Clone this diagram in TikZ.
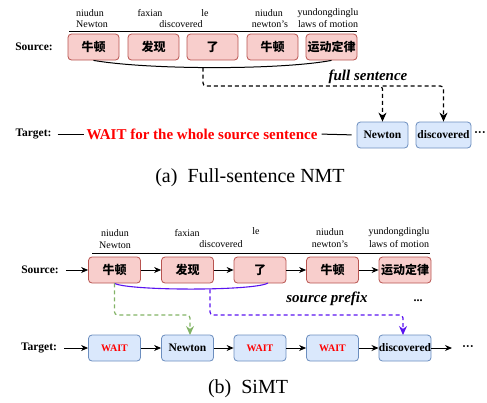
\documentclass[tikz,border=0pt]{standalone}
\usepackage{fontspec}
\setmainfont{Liberation Serif}
\newfontfamily\cjk{Noto Sans CJK SC}
\usetikzlibrary{arrows.meta}
\definecolor{srcfill}{HTML}{F8CECC}
\definecolor{srcdraw}{HTML}{B85450}
\definecolor{tgtfill}{HTML}{DAE8FC}
\definecolor{tgtdraw}{HTML}{6C8EBF}
\definecolor{grn}{HTML}{82B366}
\definecolor{prp}{HTML}{5A14F0}
\definecolor{wred}{HTML}{FF0000}
\tikzset{
  srcbox/.style={draw=srcdraw, fill=srcfill, rounded corners=3.5pt, minimum width=51pt, minimum height=26pt, inner sep=0pt, line width=0.8pt, font=\cjk\bfseries\fontsize{12}{12}\selectfont},
  tgtbox/.style={draw=tgtdraw, fill=tgtfill, rounded corners=3.5pt, minimum width=51pt, minimum height=26pt, inner sep=0pt, line width=0.8pt, font=\bfseries\fontsize{11.5}{12}\selectfont},
  gloss/.style={inner sep=0pt, font=\fontsize{10}{10}\selectfont},
  rowlab/.style={inner sep=0pt, font=\bfseries\fontsize{11.5}{12}\selectfont},
  captxt/.style={inner sep=0pt, font=\fontsize{20}{20}\selectfont},
  emtxt/.style={inner sep=0pt, font=\bfseries\itshape\fontsize{15}{15}\selectfont},
  arr/.style={-{Stealth[length=7pt,width=6pt]}, line width=0.9pt},
  darr/.style={-{Stealth[length=9pt,width=8pt]}, line width=1.2pt, dash pattern=on 4pt off 3pt, rounded corners=3pt},
}
\begin{document}
\begin{tikzpicture}[x=1pt,y=-1pt]
\useasboundingbox (0,0) rectangle (487,402);
% ================= (a) =================
\node[rowlab] (srcA) at (34,47) {Source:};
\node[srcbox] (a1) at (93.5,47) {牛顿};
\node[srcbox] (a2) at (153.5,47) {发现};
\node[srcbox] (a3) at (212.5,47) {了};
\node[srcbox] (a4) at (272.5,47) {牛顿};
\node[srcbox] (a5) at (331.5,47) {运动定律};
\draw[line width=0.9pt] (69,31) -- (357,31);
\node[gloss] (ga1) at (90,13) {niudun};
\node[gloss] (ga2) at (92,24) {Newton};
\node[gloss] (ga3) at (150,13) {faxian};
\node[gloss] (ga4) at (181,24) {discovered};
\node[gloss] (ga5) at (205,13) {le};
\node[gloss] (ga6) at (269,13) {niudun};
\node[gloss] (ga7) at (270,24) {newton's};
\node[gloss] (ga8) at (328,13) {yundongdinglu};
\node[gloss] (ga9) at (328,24) {laws of motion};
\draw[line width=1pt] (a1.south) .. controls (150,70) and (280,70) .. (a5.south);
\coordinate (fs) at (203,67.5);
\node[emtxt] (fsl) at (368,77) {full sentence};
\node[rowlab] (tgtA) at (33.5,134) {Target:};
\node[text=wred, inner sep=0pt, font=\bfseries\fontsize{15}{15}\selectfont] (wait) at (202,134) {WAIT for the whole source sentence};
\node[tgtbox] (na) at (382.5,135) {Newton};
\node[tgtbox, minimum width=55pt] (nd) at (443.5,135) {discovered};
\node[inner sep=0pt, font=\bfseries\fontsize{12}{12}\selectfont] (dotsA) at (480,134) {···};
\draw[line width=1pt, shorten <=6pt, shorten >=2pt] (tgtA.east) -- (wait.west);
\draw[line width=1pt, shorten <=4pt, shorten >=5pt] (wait.east) -- (na.west);
\coordinate (j1) at (382.5,86);
\coordinate (j2) at (443.5,86);
\draw[darr] (fs) |- (j1) -- (na.north);
\draw[darr] (j1) -- (j2) -- (nd.north);
\node[captxt] (capA) at (250,178) {(a)\ \ Full-sentence NMT};
% ================= (b) =================
\node[rowlab] (srcB) at (40,270) {Source:};
\node[srcbox, minimum width=52pt] (b1) at (114.5,270) {牛顿};
\node[srcbox, minimum width=52pt] (b2) at (187.5,270) {发现};
\node[srcbox, minimum width=52pt] (b3) at (260,270) {了};
\node[srcbox, minimum width=52pt] (b4) at (332.5,270) {牛顿};
\node[srcbox, minimum width=52pt] (b5) at (405,270) {运动定律};
\draw[line width=0.9pt] (92,253) -- (430,253);
\node[gloss] (gb1) at (115,233) {niudun};
\node[gloss] (gb2) at (115,245) {Newton};
\node[gloss] (gb3) at (187,233) {faxian};
\node[gloss] (gb4) at (221,244) {discovered};
\node[gloss] (gb5) at (256,231) {le};
\node[gloss] (gb6) at (330,232) {niudun};
\node[gloss] (gb7) at (330,244) {newton's};
\node[gloss] (gb8) at (399,232) {yundongdinglu};
\node[gloss] (gb9) at (399,244) {laws of motion};
\draw[arr, shorten <=7pt] (srcB.east) -- (b1.west);
\draw[arr] (b1) -- (b2);
\draw[arr] (b2) -- (b3);
\draw[arr] (b3) -- (b4);
\draw[arr] (b4) -- (b5);
\coordinate (b3e) at (268,283);
\draw[prp, line width=1.1pt] (b1.south) .. controls (130,291) and (255,291) .. (b3e);
\coordinate (sp) at (210,289.3);
\node[emtxt] (spl) at (327,299) {source prefix};
\node[inner sep=0pt, font=\bfseries\fontsize{12}{12}\selectfont] (dotsB) at (418,301) {...};
\node[rowlab] (tgtB) at (39,348) {Target:};
\node[tgtbox, minimum width=52pt] (t1) at (114.5,348) {\textcolor{wred}{\fontsize{10}{10}\selectfont WAIT}};
\node[tgtbox, minimum width=52pt] (t2) at (187.5,348) {Newton};
\node[tgtbox, minimum width=52pt] (t3) at (260,348) {\textcolor{wred}{\fontsize{10}{10}\selectfont WAIT}};
\node[tgtbox, minimum width=52pt] (t4) at (332.5,348) {\textcolor{wred}{\fontsize{10}{10}\selectfont WAIT}};
\node[tgtbox, minimum width=52pt] (t5) at (405,348) {discovered};
\coordinate (tend) at (452,348);
\node[inner sep=0pt, font=\bfseries\fontsize{12}{12}\selectfont] (dotsC) at (468,348) {···};
\draw[arr, shorten <=7pt] (tgtB.east) -- (t1.west);
\draw[arr] (t1) -- (t2);
\draw[arr] (t2) -- (t3);
\draw[arr] (t3) -- (t4);
\draw[arr] (t4) -- (t5);
\draw[arr] (t5.east) -- (tend);
\coordinate (g1) at (114.5,315);
\coordinate (g2) at (190,315);
\coordinate (g3) at (190,335);
\draw[darr, grn] (b1.south) -- (g1) -- (g2) -- (g3);
\coordinate (p1) at (210,315);
\coordinate (p2) at (403,315);
\coordinate (p3) at (403,335);
\draw[darr, prp] (sp) -- (p1) -- (p2) -- (p3);
\node[captxt] (capB) at (248,389) {(b)\ \ SiMT};
\end{tikzpicture}
\end{document}
